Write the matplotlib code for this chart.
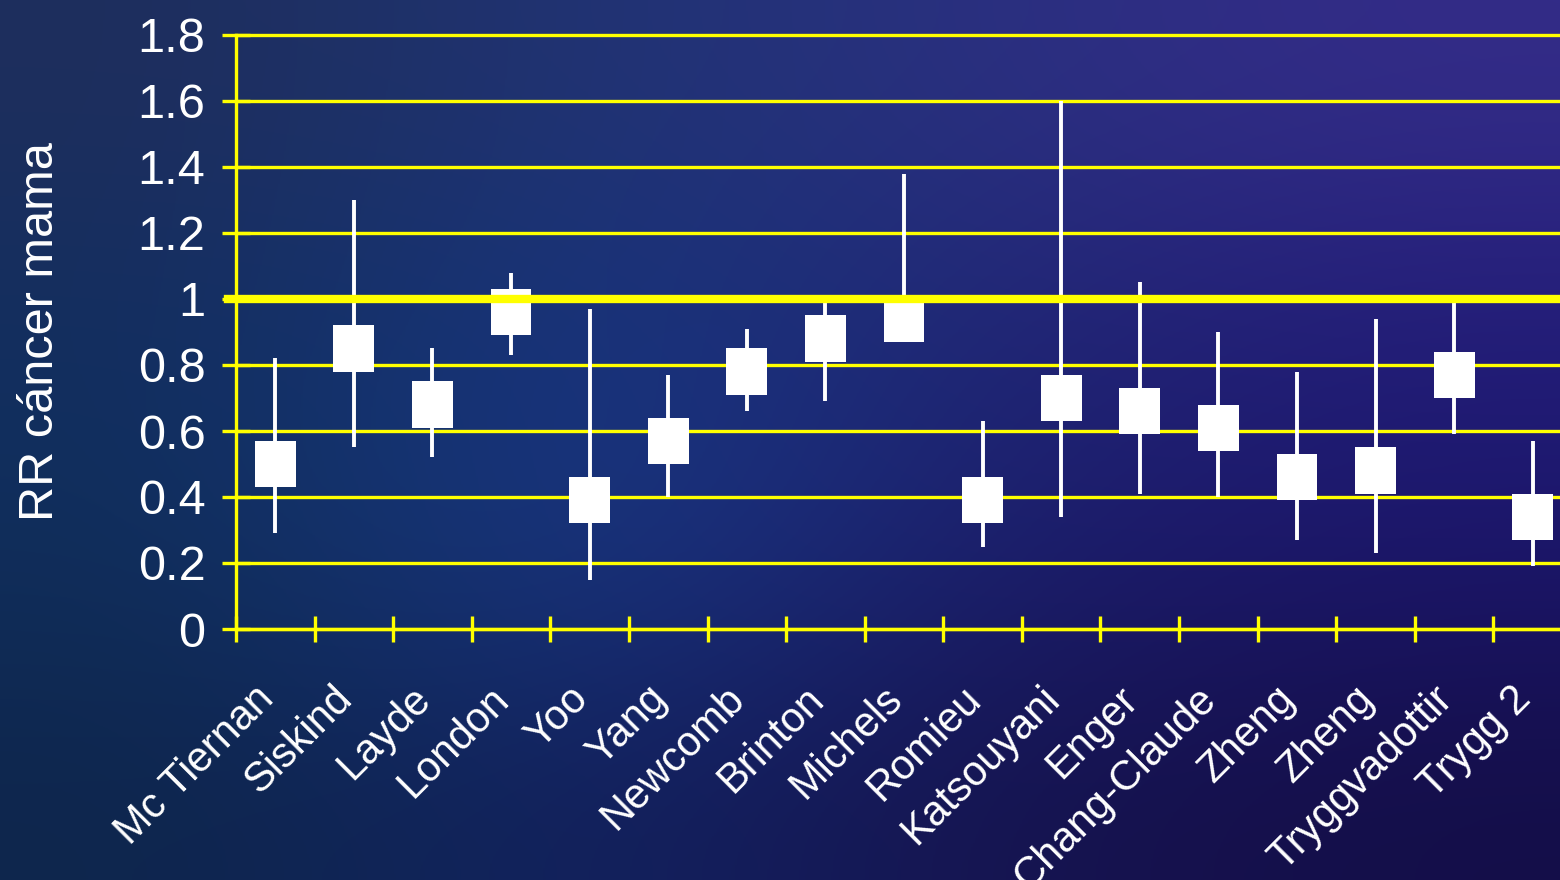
#!/usr/bin/env python3
"""
Forest-style plot of relative risk of breast cancer by study,
white boxes on point estimates with white CI whiskers, on a dark blue slide background.

Output:
- out.png
"""

import matplotlib

matplotlib.use("Agg")
import matplotlib.pyplot as plt
import numpy as np

studies = [
    "Mc Tiernan", "Siskind", "Layde", "London", "Yoo", "Yang", "Newcomb",
    "Brinton", "Michels", "Romieu", "Katsouyani", "Enger", "Chang-Claude",
    "Zheng", "Zheng", "Tryggvadottir", "Trygg 2",
]
rr = [0.50, 0.85, 0.68, 0.96, 0.39, 0.57, 0.78, 0.88, 0.94, 0.39, 0.70,
      0.66, 0.61, 0.46, 0.48, 0.77, 0.34]
ci_low = [0.29, 0.55, 0.52, 0.83, 0.15, 0.40, 0.66, 0.69, 0.90, 0.25, 0.34,
          0.41, 0.40, 0.27, 0.23, 0.59, 0.19]
ci_high = [0.82, 1.30, 0.85, 1.08, 0.97, 0.77, 0.91, 1.00, 1.38, 0.63, 1.60,
           1.05, 0.90, 0.78, 0.94, 1.00, 0.57]
y_ticks = [0, 0.2, 0.4, 0.6, 0.8, 1.0, 1.2, 1.4, 1.6, 1.8]
y_tick_labels = ["0", "0.2", "0.4", "0.6", "0.8", "1", "1.2", "1.4", "1.6", "1.8"]

YELLOW = "#ffff00"
FONT = "Liberation Sans"

# slide background colour stops (rows top->bottom, cols left->right)
bg_stops = np.array([
    [[0x1e, 0x2e, 0x5c], [0x20, 0x34, 0x74], [0x2a, 0x30, 0x80], [0x34, 0x2c, 0x88]],
    [[0x12, 0x2e, 0x5e], [0x16, 0x36, 0x80], [0x20, 0x26, 0x72], [0x22, 0x1c, 0x78]],
    [[0x10, 0x2e, 0x5a], [0x1a, 0x3a, 0x88], [0x1c, 0x1e, 0x6a], [0x1c, 0x16, 0x6c]],
    [[0x0e, 0x26, 0x4c], [0x12, 0x22, 0x60], [0x16, 0x14, 0x50], [0x14, 0x0e, 0x48]],
]) / 255.0

fig = plt.figure(figsize=(15.6, 8.8), dpi=100)
bg = fig.add_axes([0, 0, 1, 1])
bg.imshow(bg_stops, aspect="auto", interpolation="bicubic", extent=[0, 1, 0, 1])
bg.set_axis_off()

ax = fig.add_axes([236 / 1560, 251 / 880, 1336 / 1560, 594 / 880])
ax.patch.set_alpha(0)

x = np.arange(len(studies)) + 0.5
ax.vlines(x, ci_low, ci_high, color="white", lw=2.8, zorder=4)
box_h = 0.14
ax.bar(x, [box_h] * len(rr), bottom=[v - box_h / 2 for v in rr], width=0.52,
       color="white", edgecolor="none", zorder=5)
ax.axhline(1.0, xmin=-8 / 1336, xmax=1, color=YELLOW, lw=6, zorder=6, clip_on=False)

ax.set_xlim(0, len(studies))
ax.set_ylim(0, 1.8)
ax.set_yticks(y_ticks)
ax.set_yticklabels(y_tick_labels, fontsize=35, color="white", family=FONT)
ax.yaxis.grid(True, color=YELLOW, lw=2.4, zorder=1)
ax.set_axisbelow(True)
for gl in ax.get_ygridlines():
    gl.set_clip_on(False)

# labels sit a little left of the category centre, like the slide
ax.set_xticks(x - 0.1)
ax.set_xticklabels(studies, rotation=45, ha="right", va="center",
                   rotation_mode="anchor", fontsize=30, color="white", family=FONT)
ax.set_xticks(np.arange(len(studies) + 1), minor=True)
ax.tick_params(axis="x", which="major", length=0, pad=46)
ax.tick_params(axis="x", which="minor", direction="inout", length=19, width=2.4, color=YELLOW)
ax.tick_params(axis="y", direction="inout", length=20, width=2.4, color=YELLOW, pad=12)

for side in ("top", "right"):
    ax.spines[side].set_visible(False)
for side in ("left", "bottom"):
    ax.spines[side].set_color(YELLOW)
    ax.spines[side].set_linewidth(2.4)

ax.set_ylabel("RR cáncer mama", fontsize=35, color="white", family=FONT, labelpad=54)

fig.savefig("out.png", dpi=100)
